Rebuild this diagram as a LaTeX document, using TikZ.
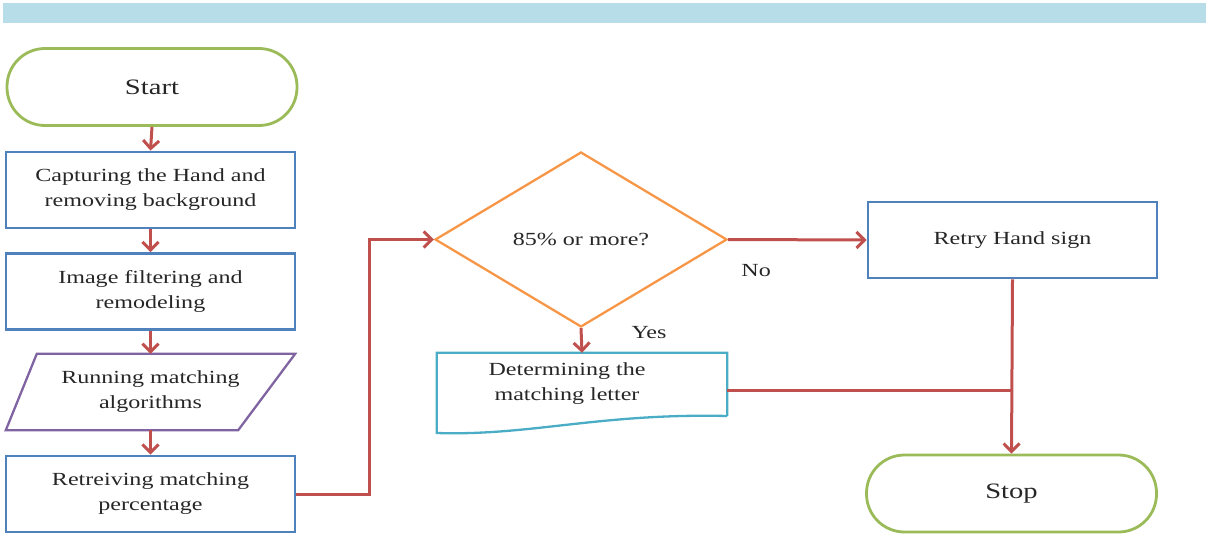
\documentclass[tikz,border=0pt]{standalone}
\usepackage{fontspec}
\setmainfont{Liberation Serif}[FakeStretch=1.3]
\usetikzlibrary{arrows.meta,shapes.geometric,calc}

\definecolor{bandblue}{HTML}{B7DDE8}
\definecolor{termgreen}{HTML}{9BBB59}
\definecolor{procblue}{HTML}{4F81BD}
\definecolor{iopurple}{HTML}{8064A2}
\definecolor{decorange}{HTML}{F79646}
\definecolor{doccyan}{HTML}{4BACC6}
\definecolor{linkred}{HTML}{C0504D}

\tikzset{
  boxtext/.style={font=\fontsize{18.5}{25}\selectfont, align=center, text=black!85},
  terminal/.style={boxtext, font=\fontsize{22}{26}\selectfont, draw=termgreen, line width=2.8pt,
    rectangle, rounded corners=38pt, minimum width=290pt, minimum height=77pt, inner sep=0pt},
  process/.style={boxtext, draw=procblue, line width=2.8pt, rectangle,
    minimum width=289pt, minimum height=76pt, inner sep=0pt},
  decision/.style={boxtext, draw=decorange, line width=2.3pt, diamond,
    minimum width=292pt, minimum height=175pt, inner sep=0pt},
  plain/.style={rectangle, inner sep=0pt},
  conn/.style={draw=linkred, line width=3pt},
  arrowconn/.style={conn, -{Straight Barb[length=8pt,width=16pt,line width=3pt]}},
  lbl/.style={font=\fontsize{18.5}{20}\selectfont, text=black!85},
}

\begin{document}
\begin{tikzpicture}[x=1pt, y=-1pt]
  \useasboundingbox (0,0) rectangle (1206,537);

  % header band
  \fill[bandblue] (3,3) rectangle (1206,23);

  % left column
  \node[terminal] (start) at (152,87) {Start};
  \node[process] (capture) at (150.5,190) {Capturing the Hand and\\removing background};
  \node[process] (filter) at (150.5,291.5) {Image filtering and\\remodeling};
  \node[plain, boxtext, minimum width=289pt, minimum height=76pt] (run) at (150.5,392)
    {Running matching\\algorithms};
  \draw[iopurple, line width=2.3pt, line join=miter]
    ($(run.north west)+(31,0)$) -- (run.north east) -- ($(run.south east)+(-57,0)$)
    -- (run.south west) -- cycle;
  \node[process] (retrieve) at (150.5,494) {Retreiving matching\\percentage};

  % decision and its branches
  \node[decision] (check) at (581,239.5) {85\% or more?};
  \node[process] (retry) at (1012.5,240) {Retry Hand sign};
  \node[plain, minimum width=290pt, minimum height=74pt] (doc) at (582,390) {};
  \draw[doccyan, line width=2.3pt, line join=miter]
    (doc.south east |- 0,416) -- (doc.north east) -- (doc.north west) -- (doc.south west |- 0,433)
    .. controls (530,436) and (600,413) .. (doc.south east |- 0,416);
  \node[boxtext] (doctext) at (567,384) {Determining the\\matching letter};
  \node[terminal] (stop) at (1011.5,493.5) {Stop};

  % connectors
  \draw[arrowconn] (start.south) -- (capture.north);
  \draw[arrowconn] (capture.south) -- (filter.north);
  \draw[arrowconn] (filter.south) -- (run.north);
  \draw[arrowconn] (run.south) -- (retrieve.north);
  \draw[arrowconn] (retrieve.east) -- ++(73,0) |- (check.west);
  \draw[arrowconn] (check.east) -- (retry.west);
  \draw[arrowconn] (check.south) -- (doc.north);
  \draw[conn] (doc.east) -- (doc.east -| retry.south);
  \draw[arrowconn] (retry.south) -- (stop.north);

  % branch labels
  \node[lbl] (no) at ($(check.east)+(28,31)$) {No};
  \node[lbl] (yes) at ($(check.south)+(68,4)$) {Yes};
\end{tikzpicture}
\end{document}
